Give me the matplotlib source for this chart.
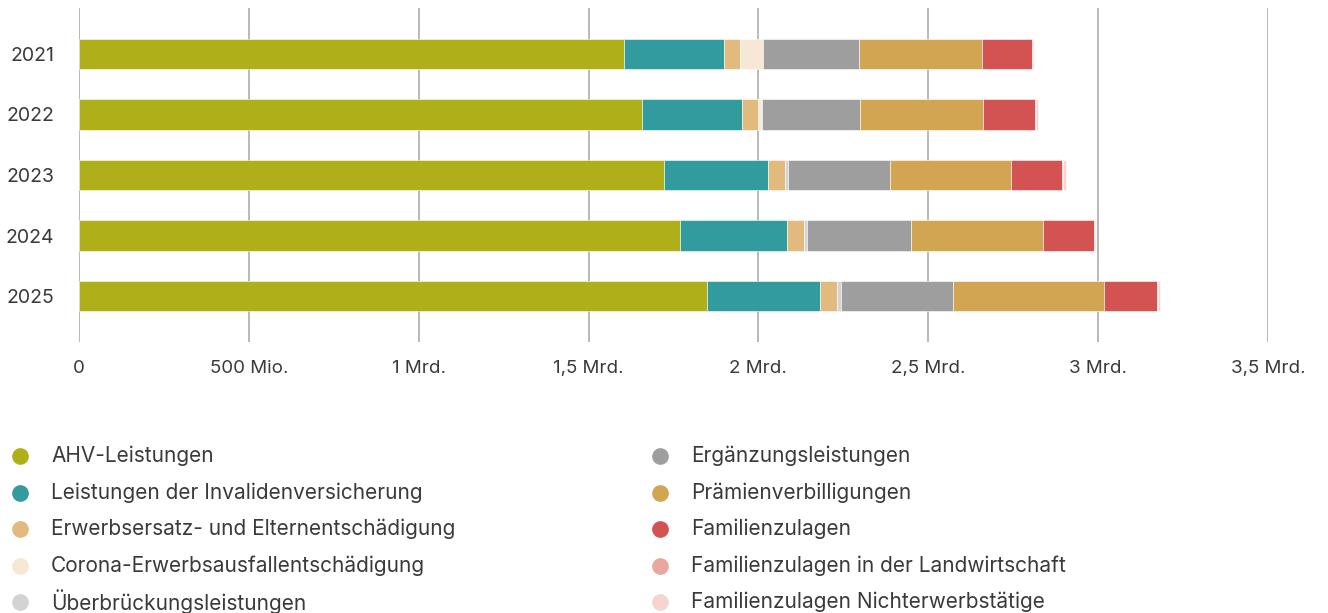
import numpy as np
import matplotlib
matplotlib.use("Agg")
import matplotlib.pyplot as plt
from matplotlib.lines import Line2D

plt.rcParams['font.family'] = ['Inter', 'DejaVu Sans']

# Ausgaben in Mio. CHF, je Jahr
years = ['2021', '2022', '2023', '2024', '2025']

ahv = [1603, 1656, 1721, 1770, 1850]
iv = [297, 297, 308, 315, 331]
eo = [47, 47, 50, 48, 50]
corona = [66, 7, 0, 0, 0]
ueberbrueckung = [1, 3, 8, 11, 12]
el = [281, 288, 300, 306, 329]
praemien = [362, 364, 357, 389, 444]
fz = [148, 152, 149, 149, 158]
fz_lw = [3, 3, 3, 3, 3]
fz_ne = [2, 7, 8, 4, 6]

labels = [
    'AHV-Leistungen',
    'Leistungen der Invalidenversicherung',
    'Erwerbsersatz- und Elternentschädigung',
    'Corona-Erwerbsausfallentschädigung',
    'Überbrückungsleistungen',
    'Ergänzungsleistungen',
    'Prämienverbilligungen',
    'Familienzulagen',
    'Familienzulagen in der Landwirtschaft',
    'Familienzulagen Nichterwerbstätige',
]
series = [ahv, iv, eo, corona, ueberbrueckung, el, praemien, fz, fz_lw, fz_ne]
colors = ['#afaf1a', '#329b9e', '#e2ba7e', '#f7e8d5', '#d3d3d3',
          '#9e9e9e', '#d2a553', '#d35252', '#e8a89f', '#f4d5d0']

xticks = [0, 500, 1000, 1500, 2000, 2500, 3000, 3500]
xticklabels = ['0', '500 Mio.', '1 Mrd.', '1,5 Mrd.', '2 Mrd.',
               '2,5 Mrd.', '3 Mrd.', '3,5 Mrd.']

text_color = '#3a3a3a'

fig = plt.figure(figsize=(13.28, 6.13), dpi=100)
ax = fig.add_axes([79 / 1328, 1 - 342 / 613, (1268 - 79) / 1328, 334 / 613])

y = np.arange(len(years))
left = np.zeros(len(years))
for vals, col in zip(series, colors):
    vals = np.array(vals, dtype=float)
    ax.barh(y, vals, left=left, height=0.51, color=col,
            edgecolor='white', linewidth=0.4, zorder=3)
    left += vals

ax.set_xlim(0, 3500)
ax.set_ylim(4.76, -0.76)
ax.set_xticks(xticks)
ax.set_xticklabels(xticklabels)
ax.set_yticks(y)
ax.set_yticklabels(years)
ax.tick_params(axis='both', length=0, colors=text_color)
ax.tick_params(axis='y', pad=18, labelsize=14)
ax.tick_params(axis='x', pad=13, labelsize=13.5)
ax.grid(axis='x', color='#a6a6a6', linewidth=1.1, zorder=0)
ax.set_axisbelow(True)
for s in ax.spines.values():
    s.set_visible(False)

# Legende in zwei Spalten
col_x = [20, 660]
row_y = [456, 493, 529, 566, 602]
for i, (lab, col) in enumerate(zip(labels, colors)):
    cx = col_x[i // 5]
    cy = row_y[i % 5]
    fig.add_artist(Line2D([cx / 1328], [1 - cy / 613], marker='o',
                          markersize=11, color=col, linestyle='none',
                          transform=fig.transFigure))
    fig.text((cx + 31) / 1328, 1 - cy / 613, lab, fontsize=15,
             color=text_color, va='center', ha='left')

fig.savefig('out.png', dpi=100)
